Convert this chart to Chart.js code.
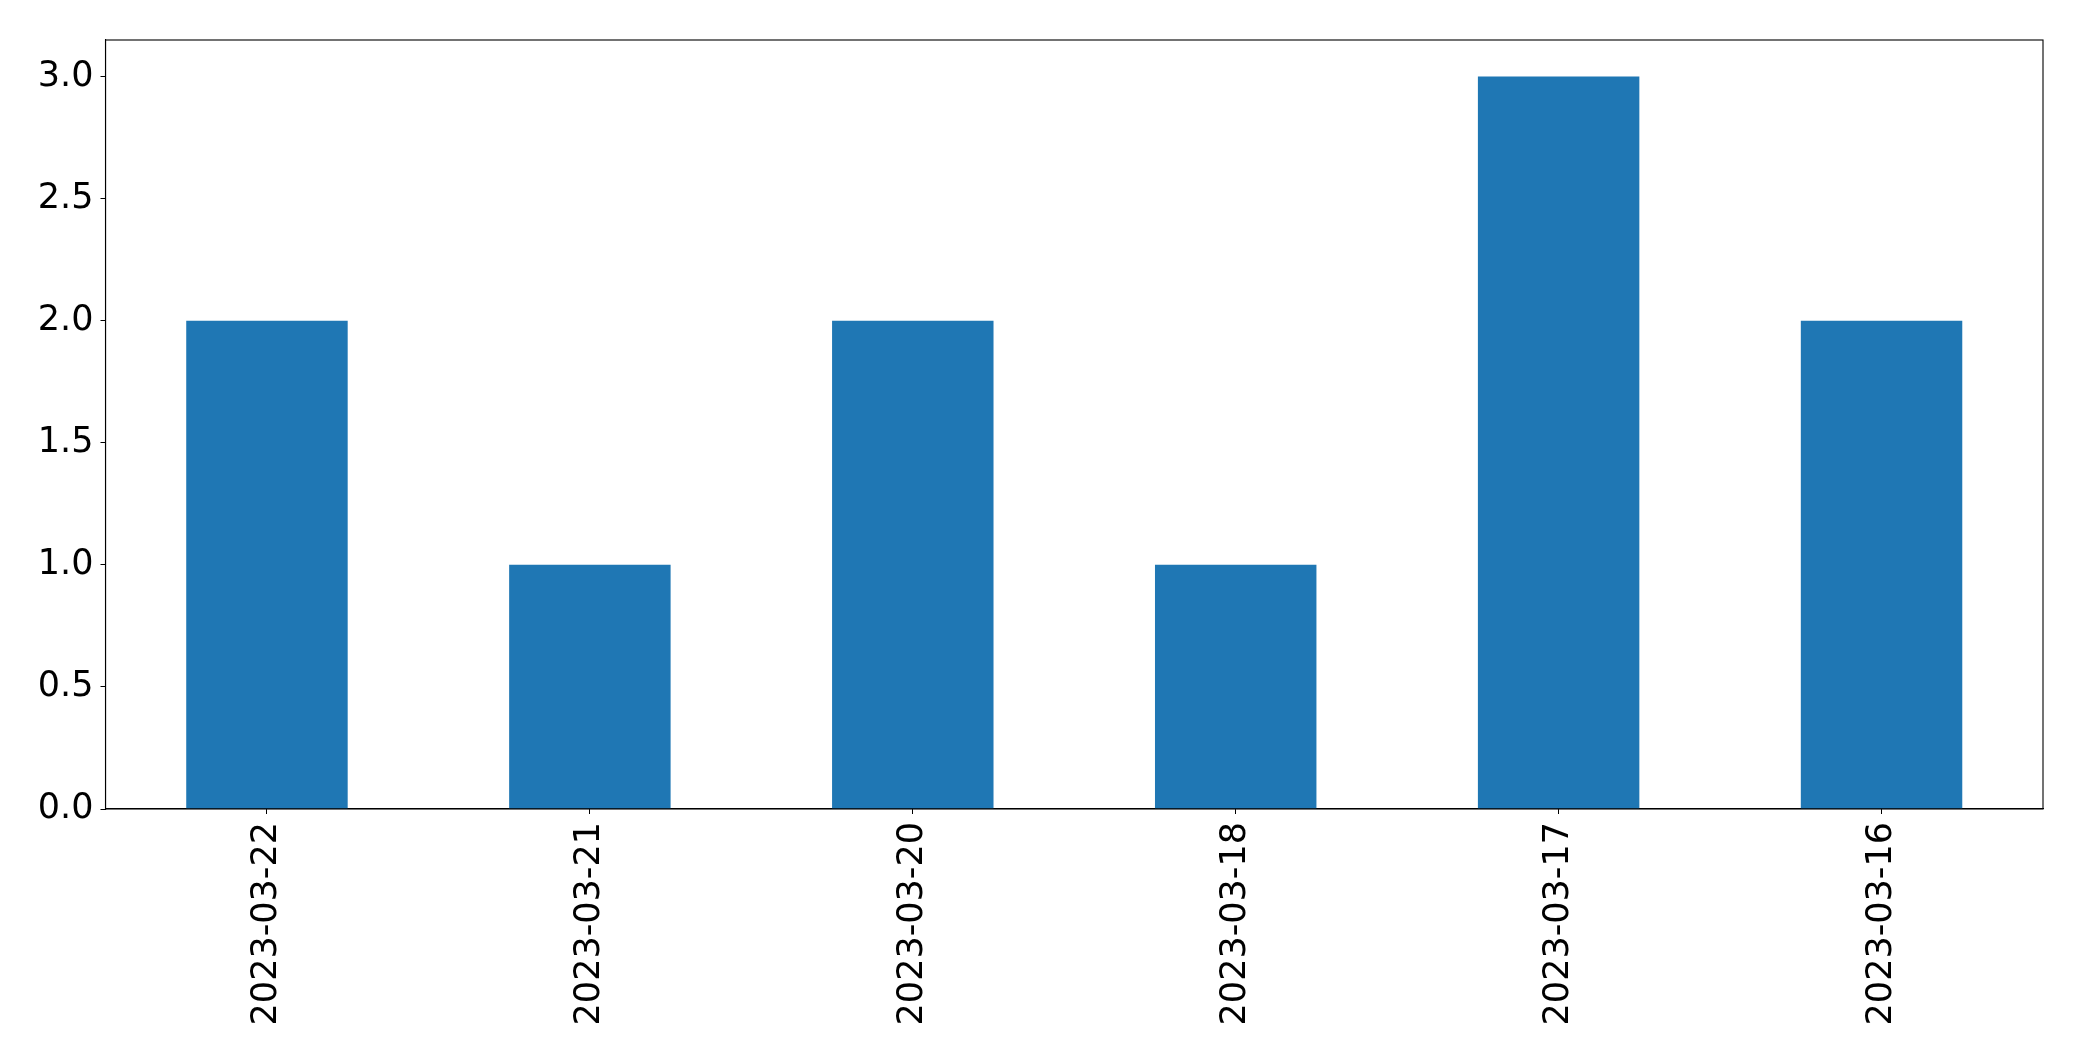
<!DOCTYPE html>
<html>
<head>
<meta charset="utf-8">
<script src="https://cdn.jsdelivr.net/npm/chart.js@4.4.0/dist/chart.umd.min.js"></script>
<style>
  html, body { margin: 0; padding: 0; background: #fff; }
  #wrap { width: 2082px; height: 1061px; }
</style>
</head>
<body>
<div id="wrap"><canvas id="chart" width="2082" height="1061"></canvas></div>
<script>
// データ
const dates = ["2023-03-22", "2023-03-21", "2023-03-20", "2023-03-18", "2023-03-17", "2023-03-16"];
const counts = [2, 1, 2, 1, 3, 2];
const yTicks = [0, 0.5, 1.0, 1.5, 2.0, 2.5, 3.0];
const yMax = 3.15;

const FONT = { family: "'DejaVu Sans', sans-serif", size: 35 };

// 枠線（上・右も含めて四辺）
const frame = {
  id: "frame",
  afterDraw(c) {
    const { ctx, chartArea: a } = c;
    ctx.save();
    ctx.strokeStyle = "#000";
    ctx.lineWidth = 1.1;
    ctx.strokeRect(a.left, a.top, a.right - a.left, a.bottom - a.top);
    ctx.restore();
  }
};

new Chart(document.getElementById("chart"), {
  type: "bar",
  data: {
    labels: dates,
    datasets: [{
      data: counts,
      backgroundColor: "#1f77b4",
      barPercentage: 0.5,
      categoryPercentage: 1.0
    }]
  },
  options: {
    responsive: false,
    animation: false,
    layout: { padding: { top: 40, right: 39, left: 0, bottom: 0 } },
    plugins: { legend: { display: false }, tooltip: { enabled: false } },
    scales: {
      x: {
        grid: { display: true, drawOnChartArea: false, drawTicks: true, tickLength: 5, color: "#000", offset: false },
        border: { display: true, color: "#000", width: 1.1 },
        ticks: { color: "#000", font: FONT, minRotation: 90, maxRotation: 90, padding: 8, autoSkip: false },
        afterFit(s) { s.height = 1061 - 809; }
      },
      y: {
        min: 0,
        max: yMax,
        grid: { display: true, drawOnChartArea: false, drawTicks: true, tickLength: 5, color: "#000" },
        border: { display: true, color: "#000", width: 1.1 },
        ticks: { color: "#000", font: FONT, padding: 7, callback: v => Number(v).toFixed(1) },
        afterBuildTicks(s) { s.ticks = yTicks.map(v => ({ value: v })); },
        afterFit(s) { s.width = 105.5; }
      }
    }
  },
  plugins: [frame]
});
</script>
</body>
</html>
